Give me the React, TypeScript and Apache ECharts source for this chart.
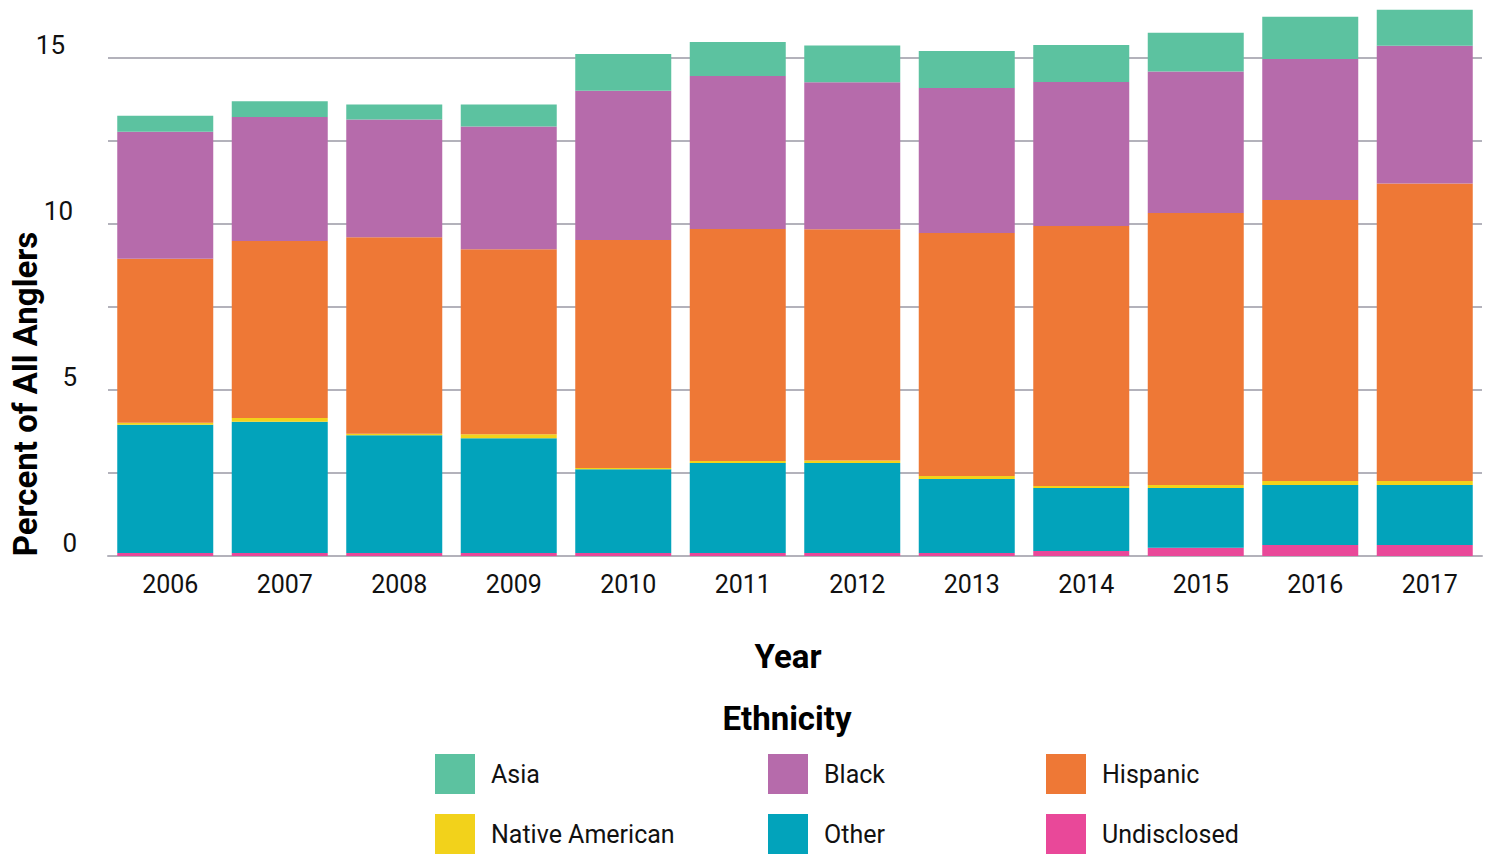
import React, { useEffect, useRef } from "react";
import * as echarts from "echarts";

const years = ["2006", "2007", "2008", "2009", "2010", "2011", "2012", "2013", "2014", "2015", "2016", "2017"];
const undisclosed = [0.09, 0.09, 0.09, 0.09, 0.09, 0.09, 0.09, 0.09, 0.15, 0.25, 0.33, 0.33];
const other = [3.86, 3.95, 3.55, 3.46, 2.52, 2.71, 2.71, 2.23, 1.9, 1.8, 1.81, 1.81];
const nativeAmerican = [0.06, 0.12, 0.04, 0.12, 0.04, 0.06, 0.08, 0.09, 0.06, 0.09, 0.12, 0.12];
const hispanic = [4.94, 5.33, 5.92, 5.57, 6.87, 6.99, 6.96, 7.32, 7.83, 8.19, 8.46, 8.96];
const black = [3.83, 3.73, 3.55, 3.7, 4.49, 4.61, 4.43, 4.37, 4.34, 4.26, 4.25, 4.15];
const asia = [0.48, 0.48, 0.45, 0.66, 1.11, 1.02, 1.11, 1.11, 1.11, 1.17, 1.27, 1.08];

const yTickLabels = ["0", "5", "10", "15"];

const COLORS: Record<string, string> = {
  Asia: "#5cc2a0",
  Black: "#b66bab",
  Hispanic: "#ee7836",
  "Native American": "#f2d21b",
  Other: "#02a3bb",
  Undisclosed: "#e94899",
};

const FONT = "Roboto, 'Noto Sans', sans-serif";

export default function App() {
  const ref = useRef<HTMLDivElement>(null);
  useEffect(() => {
    if (!ref.current) return;
    const chart = echarts.init(ref.current, null, { renderer: "svg" });
    const seriesDefs: [string, number[]][] = [
      ["Undisclosed", undisclosed],
      ["Other", other],
      ["Native American", nativeAmerican],
      ["Hispanic", hispanic],
      ["Black", black],
      ["Asia", asia],
    ];
    const legendPlaces: [string, number, number][] = [
      ["Asia", 435, 754],
      ["Black", 768, 754],
      ["Hispanic", 1046, 754],
      ["Native American", 435, 814],
      ["Other", 768, 814],
      ["Undisclosed", 1046, 814],
    ];
    chart.setOption({
      animation: false,
      grid: { left: 108, right: 3, top: 8.2, bottom: 298, containLabel: false },
      xAxis: {
        type: "category",
        data: years,
        axisLine: { show: true, lineStyle: { color: "#b3b2bb", width: 2 } },
        axisTick: { show: false },
        axisLabel: { fontFamily: FONT, fontSize: 25, color: "#111", margin: 16, padding: [0, 0, 0, 10] },
      },
      yAxis: {
        type: "value",
        min: 0,
        max: 16.5,
        interval: 2.5,
        axisLine: { show: false },
        axisTick: { show: false },
        splitLine: { show: true, showMaxLine: false, lineStyle: { color: "#b3b2bb", width: 2 } },
        axisLabel: {
          showMaxLabel: false,
          margin: 31,
          verticalAlign: "bottom",
          fontFamily: FONT,
          fontSize: 26,
          color: "#111",
          formatter: (v: number) => {
            const s = String(v);
            if (!yTickLabels.includes(s)) return "";
            if (s === "15") return "{a|15}";
            if (s === "10") return "{b|10}";
            return "{c|" + s + "}";
          },
          rich: {
            a: { fontFamily: FONT, fontSize: 26, color: "#111", padding: [0, 12, 0, 0] },
            b: { fontFamily: FONT, fontSize: 26, color: "#111", padding: [0, 4, 0, 0] },
            c: { fontFamily: FONT, fontSize: 26, color: "#111" },
          },
        },
      },
      legend: legendPlaces.map(([name, left, top]) => ({
        left,
        top,
        padding: 0,
        orient: "horizontal",
        itemWidth: 40,
        itemHeight: 40,
        icon: "rect",
        selectedMode: false,
        data: [name],
        textStyle: { fontFamily: FONT, fontSize: 25, color: "#111", padding: [0, 0, 0, 11] },
      })),
      graphic: [
        {
          type: "text",
          x: 25,
          y: 394,
          rotation: Math.PI / 2,
          style: {
            text: "Percent of All Anglers",
            fontFamily: FONT,
            fontWeight: "bold",
            fontSize: 33,
            fill: "#000",
            textAlign: "center",
            textVerticalAlign: "middle",
          },
        },
        {
          type: "text",
          x: 788,
          y: 656,
          style: {
            text: "Year",
            fontFamily: FONT,
            fontWeight: "bold",
            fontSize: 33,
            fill: "#000",
            textAlign: "center",
            textVerticalAlign: "middle",
          },
        },
        {
          type: "text",
          x: 787,
          y: 718,
          style: {
            text: "Ethnicity",
            fontFamily: FONT,
            fontWeight: "bold",
            fontSize: 33,
            fill: "#000",
            textAlign: "center",
            textVerticalAlign: "middle",
          },
        },
      ],
      series: seriesDefs.map(([name, data]) => ({
        name,
        type: "bar",
        stack: "total",
        data,
        barWidth: 96,
        itemStyle: { color: COLORS[name] },
        emphasis: { disabled: true },
      })),
    });
    return () => chart.dispose();
  }, []);
  return (
    <div
      ref={ref}
      style={{ position: "fixed", left: 0, top: 0, width: 1485, height: 854, background: "#fff" }}
    />
  );
}
